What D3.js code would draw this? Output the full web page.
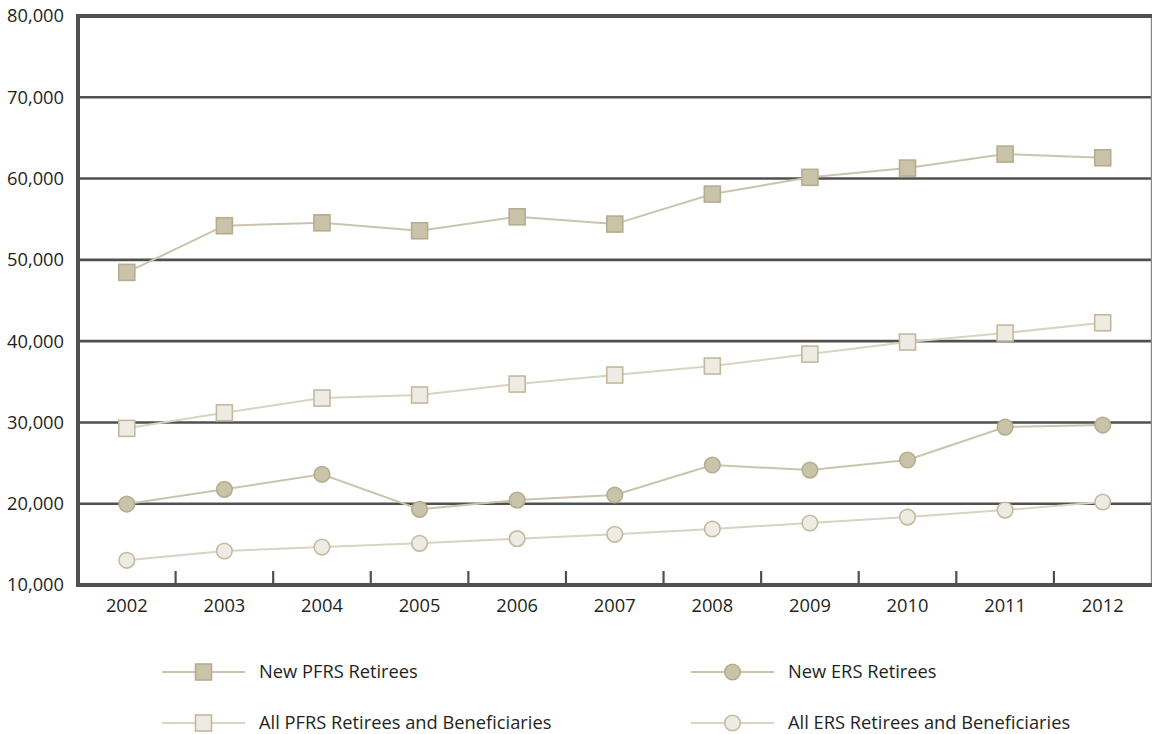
<!DOCTYPE html>
<html>
<head>
<meta charset="utf-8">
<script src="https://cdn.jsdelivr.net/npm/d3@7"></script>
<style>
  html, body { margin: 0; padding: 0; background: #ffffff; }
  svg { display: block; font-family: "Open Sans", "Noto Sans", sans-serif; }
</style>
</head>
<body>
<svg id="chart" width="1152" height="734"></svg>
<script>
// Retiree counts by year
const years = ["2002","2003","2004","2005","2006","2007","2008","2009","2010","2011","2012"];
const newPfrs = [48460, 54200, 54560, 53580, 55300, 54400, 58090, 60150, 61290, 63010, 62560];
const allPfrs = [29270, 31190, 33000, 33370, 34720, 35830, 36940, 38410, 39890, 41000, 42260];
const newErs  = [19960, 21770, 23620, 19310, 20450, 21070, 24760, 24140, 25380, 29430, 29680];
const allErs  = [13040, 14180, 14670, 15130, 15700, 16240, 16890, 17630, 18360, 19220, 20210];
const yTicks  = [10000, 20000, 30000, 40000, 50000, 60000, 70000, 80000];

const seriesNames = ["New PFRS Retirees", "New ERS Retirees",
                     "All PFRS Retirees and Beneficiaries", "All ERS Retirees and Beneficiaries"];

const svg = d3.select("#chart");
const plotLeft = 78, plotRight = 1151.5, plotTop = 16, plotBottom = 585;
const fontSize = 18.3;

const x = d3.scaleBand().domain(years).range([plotLeft, plotRight]).padding(0);
const y = d3.scaleLinear().domain([10000, 80000]).range([plotBottom, plotTop]);
const axisColor = "#505050";

// horizontal gridlines
svg.append("g").selectAll("line")
  .data(yTicks.filter(t => t > 10000 && t < 80000))
  .join("line")
  .attr("x1", plotLeft).attr("x2", plotRight)
  .attr("y1", d => y(d)).attr("y2", d => y(d))
  .attr("stroke", axisColor).attr("stroke-width", 2.6);

// frame: thin right edge, heavy top, left and bottom
svg.append("line").attr("x1", plotRight).attr("x2", plotRight).attr("y1", plotTop).attr("y2", plotBottom)
  .attr("stroke", "#8a8a8a").attr("stroke-width", 1.5);
svg.append("line").attr("x1", plotLeft - 2).attr("x2", plotRight + 0.75).attr("y1", y(80000)).attr("y2", y(80000))
  .attr("stroke", axisColor).attr("stroke-width", 4);
svg.append("line").attr("x1", plotLeft).attr("x2", plotLeft).attr("y1", plotTop - 2).attr("y2", plotBottom + 2)
  .attr("stroke", axisColor).attr("stroke-width", 4);
svg.append("line").attr("x1", plotLeft - 2).attr("x2", plotRight + 0.75).attr("y1", plotBottom).attr("y2", plotBottom)
  .attr("stroke", axisColor).attr("stroke-width", 4);

// inward ticks between year bands
svg.append("g").selectAll("line")
  .data(years.slice(1))
  .join("line")
  .attr("x1", d => x(d)).attr("x2", d => x(d))
  .attr("y1", plotBottom).attr("y2", plotBottom - 14)
  .attr("stroke", axisColor).attr("stroke-width", 2.2);

// y axis labels
const yAxis = svg.append("g")
  .attr("transform", `translate(${plotLeft - 14},0)`)
  .call(d3.axisLeft(y).tickValues(yTicks).tickFormat(d3.format(",")).tickSize(0).tickPadding(0));
yAxis.select(".domain").remove();
yAxis.selectAll("text")
  .attr("font-family", "'Open Sans', sans-serif")
  .attr("font-size", fontSize).attr("fill", "#231f20");

// x axis labels
const xAxis = svg.append("g")
  .attr("transform", `translate(0,${plotBottom})`)
  .call(d3.axisBottom(x).tickSize(0).tickPadding(14));
xAxis.select(".domain").remove();
xAxis.selectAll("text")
  .attr("font-family", "'Open Sans', sans-serif")
  .attr("font-size", fontSize).attr("fill", "#231f20");

const styles = {
  darkFill: "#c9c3aa", darkStroke: "#b5ad8e", darkLine: "#cbc4ac",
  lightFill: "#edebe3", lightStroke: "#c2ba9c", lightLine: "#d8d3c2"
};

const series = [
  { name: seriesNames[3], values: allErs,  shape: "circle", fill: styles.lightFill, stroke: styles.lightStroke, line: styles.lightLine },
  { name: seriesNames[1], values: newErs,  shape: "circle", fill: styles.darkFill,  stroke: styles.darkStroke,  line: styles.darkLine },
  { name: seriesNames[2], values: allPfrs, shape: "square", fill: styles.lightFill, stroke: styles.lightStroke, line: styles.lightLine },
  { name: seriesNames[0], values: newPfrs, shape: "square", fill: styles.darkFill,  stroke: styles.darkStroke,  line: styles.darkLine }
];

const cx = i => x(years[i]) + x.bandwidth() / 2;
const line = d3.line().x((d, i) => cx(i)).y(d => y(d));

function drawMarker(g, shape, px, py, s) {
  if (shape === "square") {
    g.append("rect")
      .attr("x", px - 8).attr("y", py - 8).attr("width", 16).attr("height", 16)
      .attr("fill", s.fill).attr("stroke", s.stroke).attr("stroke-width", 1.6);
  } else {
    g.append("circle")
      .attr("cx", px).attr("cy", py).attr("r", 7.8)
      .attr("fill", s.fill).attr("stroke", s.stroke).attr("stroke-width", 1.6);
  }
}

series.forEach(s => {
  const g = svg.append("g");
  g.append("path").datum(s.values)
    .attr("d", line).attr("fill", "none")
    .attr("stroke", s.line).attr("stroke-width", 2);
  s.values.forEach((v, i) => drawMarker(g, s.shape, cx(i), y(v), s));
});

// legend
const legendItems = [
  { s: series[3], lx: 162, ly: 672 },
  { s: series[1], lx: 691, ly: 672 },
  { s: series[2], lx: 162, ly: 723 },
  { s: series[0], lx: 691, ly: 723 }
];
legendItems.forEach(({ s, lx, ly }) => {
  const g = svg.append("g");
  g.append("line").attr("x1", lx).attr("x2", lx + 83).attr("y1", ly).attr("y2", ly)
    .attr("stroke", s.line).attr("stroke-width", 2);
  drawMarker(g, s.shape, lx + 41.5, ly, s);
  g.append("text").attr("x", lx + 97).attr("y", ly).attr("dy", "0.35em")
    .attr("font-size", fontSize).attr("fill", "#231f20").text(s.name);
});
</script>
</body>
</html>
